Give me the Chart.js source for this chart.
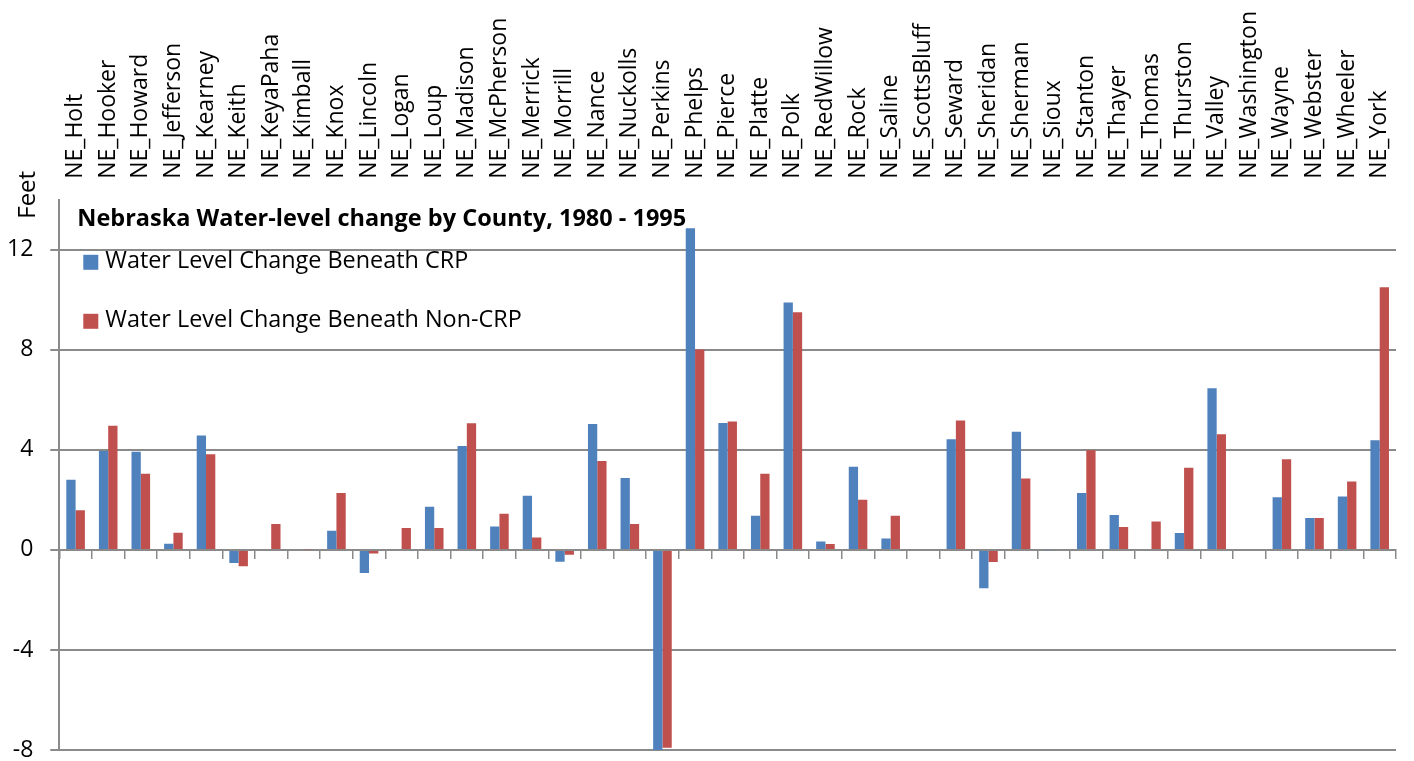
<!DOCTYPE html>
<html>
<head>
<meta charset="utf-8">
<title>Nebraska Water-level change by County, 1980 - 1995</title>
<script src="https://cdn.jsdelivr.net/npm/chart.js@4.4.1/dist/chart.umd.min.js"></script>
<style>
    body { margin: 0; background: white; }
    #wrap { position: relative; width: 1414px; height: 761px; }
</style>
</head>
<body>
<div id="wrap"><canvas id="waterChart"></canvas></div>
<script>
const counties = [
    "NE_Holt", "NE_Hooker", "NE_Howard", "NE_Jefferson", "NE_Kearney", "NE_Keith", "NE_KeyaPaha",
    "NE_Kimball", "NE_Knox", "NE_Lincoln", "NE_Logan", "NE_Loup", "NE_Madison", "NE_McPherson",
    "NE_Merrick", "NE_Morrill", "NE_Nance", "NE_Nuckolls", "NE_Perkins", "NE_Phelps", "NE_Pierce",
    "NE_Platte", "NE_Polk", "NE_RedWillow", "NE_Rock", "NE_Saline", "NE_ScottsBluff", "NE_Seward",
    "NE_Sheridan", "NE_Sherman", "NE_Sioux", "NE_Stanton", "NE_Thayer", "NE_Thomas", "NE_Thurston",
    "NE_Valley", "NE_Washington", "NE_Wayne", "NE_Webster", "NE_Wheeler", "NE_York"
];

// feet
const crpChange = [
    2.81, 3.96, 3.93, 0.25, 4.58, -0.52, 0,
    0, 0.77, -0.92, 0, 1.73, 4.16, 0.94,
    2.17, -0.47, 5.04, 2.88, -8.06, 12.86, 5.08,
    1.37, 9.89, 0.34, 3.33, 0.46, 0, 4.43,
    -1.53, 4.73, -0.03, 2.28, 1.40, 0, 0.68,
    6.46, 0, 2.11, 1.28, 2.14, 4.39
];
const nonCrpChange = [
    1.59, 4.97, 3.05, 0.69, 3.83, -0.65, 1.04,
    0.03, 2.28, -0.14, 0.88, 0.88, 5.07, 1.45,
    0.50, -0.19, 3.56, 1.04, -7.91, 8.01, 5.14,
    3.05, 9.50, 0.24, 2.01, 1.37, 0, 5.18,
    -0.48, 2.86, 0, 3.99, 0.92, 1.14, 3.29,
    4.63, 0, 3.63, 1.28, 2.74, 10.50
];
const seriesNames = ["Water Level Change Beneath CRP", "Water Level Change Beneath Non-CRP"];
const seriesColors = ["#4F81BD", "#C0504D"];
const yTicks = [-8, -4, 0, 4, 8, 12];

const chartTitle = "Nebraska Water-level change by County, 1980 - 1995";
const axisTitle = "Feet";
const fontName = "'Open Sans', sans-serif";
const labelSize = 23;
const gridColor = "#8A8A8A";

// title, legend and the "Feet" caption sit inside / above the plot like in Excel
const overlayPlugin = {
    id: "overlay",
    afterDraw: function(chart) {
        const ctx = chart.ctx;
        const area = chart.chartArea;
        ctx.save();
        ctx.fillStyle = "#000000";
        ctx.textBaseline = "alphabetic";
        ctx.textAlign = "left";
        ctx.font = "bold 23.5px " + fontName;
        ctx.fillText(chartTitle, area.left + 18, area.top + 26);

        ctx.font = "23.4px " + fontName;
        ctx.textBaseline = "middle";
        for (let i = 0; i < seriesNames.length; i++) {
            const y = area.top + 62 + i * 59;
            ctx.fillStyle = seriesColors[i];
            ctx.fillRect(area.left + 24, y - 7, 15, 15);
            ctx.fillStyle = "#000000";
            ctx.fillText(seriesNames[i], area.left + 46, y);
        }

        ctx.font = "24px " + fontName;
        ctx.translate(28, area.top - 5);
        ctx.rotate(-Math.PI / 2);
        ctx.textAlign = "center";
        ctx.fillText(axisTitle, 0, 0);
        ctx.restore();
    }
};

// Chart.js reserves the tick padding twice and half a label at the ends; take that back
function trimAxis(axis) {
    axis.paddingLeft = 0;
    axis.paddingRight = 0;
    axis.paddingTop = 0;
    axis.paddingBottom = 0;
    if (axis.isHorizontal()) {
        axis.height -= axis.options.ticks.padding;
    } else {
        axis.width -= axis.options.ticks.padding;
    }
}

const ctx = document.getElementById("waterChart");

new Chart(ctx, {
    type: "bar",
    data: {
        labels: counties,
        datasets: [{
            label: seriesNames[0],
            data: crpChange,
            backgroundColor: seriesColors[0],
            borderWidth: 0
        }, {
            label: seriesNames[1],
            data: nonCrpChange,
            backgroundColor: seriesColors[1],
            borderWidth: 0
        }]
    },
    options: {
        responsive: true,
        maintainAspectRatio: false,
        animation: false,
        categoryPercentage: 0.57,
        barPercentage: 1.0,
        layout: {
            padding: { top: 11, left: 7, right: 18, bottom: 11 }
        },
        plugins: {
            legend: { display: false },
            title: { display: false },
            tooltip: { enabled: false }
        },
        scales: {
            x: {
                position: "top",
                afterFit: trimAxis,
                grid: { display: false, drawTicks: false },
                border: { display: false },
                ticks: {
                    autoSkip: false,
                    minRotation: 90,
                    maxRotation: 90,
                    padding: 21,
                    // Chart.js shifts rotated top labels left by one line height
                    labelOffset: labelSize * 1.2,
                    color: "#000000",
                    font: { family: fontName, size: labelSize }
                }
            },
            zeroAxis: {
                type: "category",
                axis: "x",
                position: { y: 0 },
                offset: true,
                grid: {
                    offset: true,
                    drawOnChartArea: false,
                    drawTicks: true,
                    tickLength: 8,
                    color: gridColor,
                    lineWidth: 1.5
                },
                border: { display: true, color: gridColor, width: 2 },
                ticks: { display: false }
            },
            y: {
                min: -8,
                max: 14,
                afterFit: trimAxis,
                afterBuildTicks: function(axis) {
                    axis.ticks = yTicks.concat([14]).map(function(v) { return { value: v }; });
                },
                grid: {
                    color: function(c) {
                        return c.tick && c.tick.value === 14 ? "rgba(0,0,0,0)" : gridColor;
                    },
                    lineWidth: 2,
                    tickLength: 9
                },
                border: { display: true, color: gridColor, width: 2 },
                ticks: {
                    padding: 17,
                    color: "#000000",
                    font: { family: fontName, size: 23 },
                    callback: function(value) {
                        return yTicks.indexOf(value) >= 0 ? value : "";
                    }
                }
            }
        }
    },
    plugins: [overlayPlugin]
});
</script>
</body>
</html>
